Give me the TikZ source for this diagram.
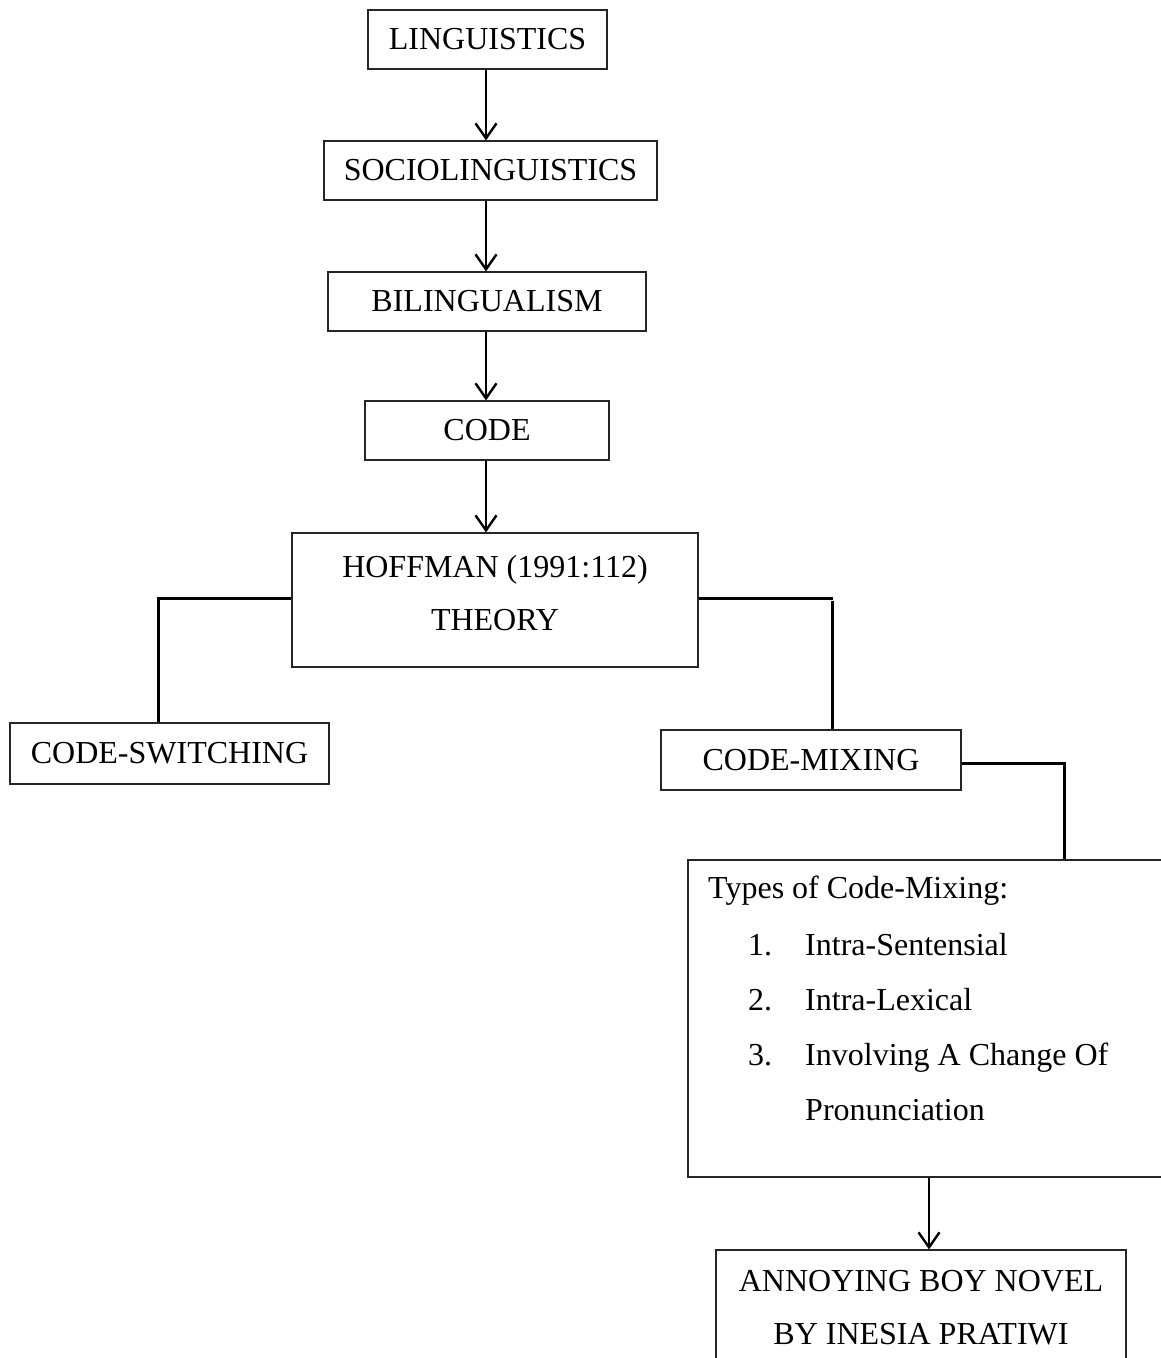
\documentclass[tikz,border=0pt]{standalone}
\usepackage{fontspec}
\setmainfont{Liberation Serif}
\usetikzlibrary{arrows.meta}
\begin{document}
\begin{tikzpicture}[x=1pt,y=-1pt,
  box/.style={draw=black!85,line width=1.2pt,inner sep=0pt,minimum height=59pt,
    font=\fontsize{32}{53}\selectfont,align=center},
  txt/.style={inner sep=0pt,font=\fontsize{32}{53}\selectfont,anchor=base west},
  arr/.style={line width=2.4pt,-{Straight Barb[length=15pt,width=21pt,line width=2.4pt]}},
  conn/.style={line width=3pt}]
\clip (0,0) rectangle (1161,1358);
\fill[white] (0,0) rectangle (1161,1358);
\node[box,minimum width=239pt] (ling) at (487.5,39.5) {LINGUISTICS};
\node[box,minimum width=333pt] (socio) at (490.5,170.5) {SOCIOLINGUISTICS};
\node[box,minimum width=318pt] (bil) at (487,301.5) {BILINGUALISM};
\node[box,minimum width=244pt] (code) at (487,430.5) {CODE};
\node[box,minimum width=406pt,minimum height=134pt] (hoff) at (495,600) {};
\node[inner sep=0pt,font=\fontsize{32}{53}\selectfont,align=center] (hofft) at (495,593) {HOFFMAN (1991:112)\\THEORY};
\node[box,minimum width=319pt,minimum height=61pt] (cs) at (169.5,753.5) {CODE-SWITCHING};
\node[box,minimum width=300pt,minimum height=60pt] (cm) at (811,760) {CODE-MIXING};
\node[box,minimum width=500pt,minimum height=317pt] (types) at (938,1018.5) {};
\node[box,minimum width=410pt,minimum height=130pt] (novel) at (921,1315) {};
\node[inner sep=0pt,font=\fontsize{32}{53}\selectfont,align=center] (novelt) at (921,1308) {ANNOYING BOY NOVEL\\BY INESIA PRATIWI};
% types text
\node[txt] (ttitle) at (708,898) {Types of Code-Mixing:};
\node[txt] (n1) at (748,955) {1.};
\node[txt] (t1) at (805,955) {Intra-Sentensial};
\node[txt] (n2) at (748,1010) {2.};
\node[txt] (t2) at (805,1010) {Intra-Lexical};
\node[txt] (n3) at (748,1065) {3.};
\node[txt] (t3) at (805,1065) {Involving A Change Of};
\node[txt] (t4) at (805,1120) {Pronunciation};
% arrows
\draw[arr] (ling.south -| 486,0) -- (socio.north -| 486,0);
\draw[arr] (socio.south -| 486,0) -- (bil.north -| 486,0);
\draw[arr] (bil.south -| 486,0) -- (code.north -| 486,0);
\draw[arr] (code.south -| 486,0) -- (hoff.north -| 486,0);
\coordinate (tb) at (929,1180);
\draw[arr] (types.south -| tb) -- (novel.north -| tb);
% connectors
\draw[conn] (hoff.west |- 0,598) -- (158,598) -- (cs.north -| 158,0);
\draw[conn] (hoff.east |- 0,598) -- (833,598);
\draw[conn] (832,601) -- (cm.north -| 832,0);
\draw[conn] (cm.east |- 0,763) -- (1064,763) -- (types.north -| 1064,0);
\end{tikzpicture}
\end{document}
